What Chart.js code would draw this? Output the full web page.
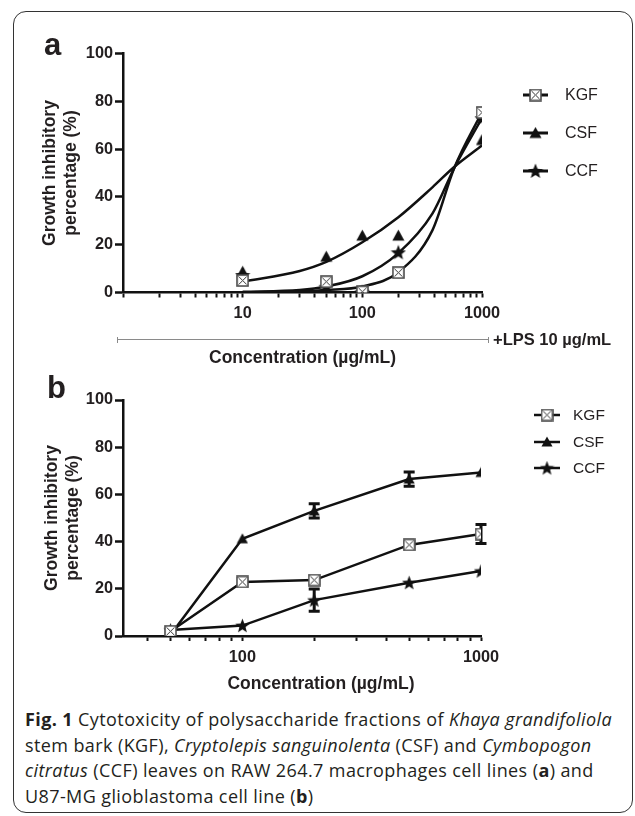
<!DOCTYPE html>
<html>
<head>
<meta charset="utf-8">
<script src="https://cdn.jsdelivr.net/npm/chart.js@4.4.0/dist/chart.umd.min.js"></script>
<style>
html, body { margin: 0; padding: 0; background: #fff; }
body { width: 635px; height: 816px; position: relative; overflow: hidden; font-family: "Liberation Sans", Arial, sans-serif; color: #231f20; }
#frame { position: absolute; left: 13px; top: 11px; width: 618px; height: 800px; border: 1.5px solid #333; border-radius: 13px; }
canvas { position: absolute; left: 0; }
#chartA { top: 0; }
#chartB { top: 372px; }
.letter { position: absolute; font-weight: bold; font-size: 31px; line-height: 30px; }
#lps { position: absolute; left: 117px; top: 339px; width: 372px; border-top: 1px solid #8a8a8a; }
#lps:before, #lps:after { content: ""; position: absolute; top: -3px; width: 1px; height: 6px; background: #8a8a8a; }
#lps:before { left: 0; }
#lps:after { right: 0; }
#lpsText { position: absolute; left: 493px; top: 330px; font-weight: bold; font-size: 16.5px; line-height: 18px; }
#xTitleB { position: absolute; left: 221px; width: 200px; top: 672px; text-align: center; font-weight: bold; font-size: 17.5px; line-height: 22px; }
#caption { position: absolute; left: 25px; top: 707px; font-family: "Open Sans", Lato, sans-serif; font-size: 18px; letter-spacing: 0.4px; line-height: 25.5px; white-space: nowrap; color: #231f20; }
</style>
</head>
<body>
<div id="frame"></div>
<canvas id="chartA" width="635" height="372"></canvas>
<canvas id="chartB" width="635" height="333"></canvas>
<div class="letter" style="left:44px; top:30px;">a</div>
<div class="letter" style="left:47px; top:373px;">b</div>
<div id="lps"></div>
<div id="lpsText">+LPS 10 µg/mL</div>
<div id="xTitleB">Concentration (µg/mL)</div>
<div id="caption"><b>Fig. 1</b> Cytotoxicity of polysaccharide fractions of <i>Khaya grandifoliola</i><br>stem bark (KGF), <i>Cryptolepis sanguinolenta</i> (CSF) and <i>Cymbopogon</i><br><i>citratus</i> (CCF) leaves on RAW 264.7 macrophages cell lines (<b>a</b>) and<br>U87-MG glioblastoma cell line (<b>b</b>)</div>

<script>
// séries
const seriesNames = ["KGF", "CSF", "CCF"];

// painel a (RAW 264.7, +LPS)
const concA = [10, 50, 100, 200, 1000];
const kgfA = [5, 4.5, 0.3, 8.3, 75.3];
const csfA = [8.7, 15, 23.8, 23.8, 63.8];
const ccfA = [7.3, 2.4, 0.3, 16.8, 72.9];

// curvas ajustadas
const fitConcA = [10, 30, 50, 100, 200, 385, 585, 1000];
const kgfFitA = [0.1, 0.5, 1, 2.5, 8.5, 26, 52, 75.5];
const csfFitA = [4.5, 9, 12.8, 21, 31.5, 44, 52.5, 61.5];
const ccfFitA = [0.3, 1, 2.5, 6.8, 16.5, 33, 52, 73];

const xTickLabelsA = [10, 100, 1000];

// painel b (U87-MG)
const concB = [50, 100, 200, 500, 1000];
const kgfB = [2, 22.9, 23.7, 38.6, 43.2];
const csfB = [0.5, 41.2, 53, 66.5, 69.3];
const ccfB = [2.5, 4.4, 15.2, 22.6, 27.5];
const kgfErrB = [0, 0, 0, 1, 4];
const csfErrB = [0, 0, 3, 3, 0];
const ccfErrB = [0, 0, 4.7, 0, 0];

const xTickLabelsB = [100, 1000];
const yTicks = [0, 20, 40, 60, 80, 100];

// marcadores
function makeBox(s) {
  const c = document.createElement('canvas');
  c.width = s; c.height = s;
  const g = c.getContext('2d');
  g.fillStyle = '#fff';
  g.fillRect(1, 1, s - 2, s - 2);
  g.strokeStyle = '#333';
  g.lineWidth = 1;
  g.beginPath();
  g.moveTo(2.5, 2.5); g.lineTo(s - 2.5, s - 2.5);
  g.moveTo(s - 2.5, 2.5); g.lineTo(2.5, s - 2.5);
  g.stroke();
  g.strokeStyle = '#4d4d4d';
  g.lineWidth = 1.6;
  g.strokeRect(1, 1, s - 2, s - 2);
  return c;
}
function makeTriangle(s) {
  const c = document.createElement('canvas');
  c.width = s; c.height = s;
  const g = c.getContext('2d');
  g.fillStyle = '#111';
  g.beginPath();
  g.moveTo(s / 2, 0.5);
  g.lineTo(s - 0.5, s - 1.5);
  g.lineTo(0.5, s - 1.5);
  g.closePath();
  g.fill();
  return c;
}
function makeStar(s) {
  const c = document.createElement('canvas');
  c.width = s; c.height = s;
  const g = c.getContext('2d');
  const R = s / 2, r = s / 4.6, cx = s / 2, cy = s / 2 + 0.6;
  g.fillStyle = '#111';
  g.beginPath();
  for (let i = 0; i < 10; i++) {
    const rad = i % 2 ? r : R;
    const a = -Math.PI / 2 + i * Math.PI / 5;
    g.lineTo(cx + rad * Math.cos(a), cy + rad * Math.sin(a));
  }
  g.closePath();
  g.fill();
  return c;
}

const markersA = [makeBox(13), makeTriangle(13), makeStar(16)];
const markersB = [makeBox(13), makeTriangle(12), makeStar(15)];

const pts = (xs, ys) => xs.map((x, i) => ({ x: x, y: ys[i] }));

// legenda desenhada à mão (linha + marcador)
const lineLegend = {
  id: 'lineLegend',
  afterDraw(chart, args, opts) {
    const ctx = chart.ctx;
    ctx.save();
    opts.names.forEach((name, i) => {
      const y = opts.ys[i];
      ctx.strokeStyle = '#111';
      ctx.lineWidth = opts.lineWidth;
      ctx.beginPath();
      ctx.moveTo(opts.x - opts.half, y);
      ctx.lineTo(opts.x + opts.half, y);
      ctx.stroke();
      const m = opts.markers[i];
      ctx.drawImage(m, opts.x - m.width / 2, y - m.height / 2);
      ctx.fillStyle = '#231f20';
      ctx.font = opts.font;
      ctx.textBaseline = 'middle';
      ctx.fillText(name, opts.textX, y + 1);
    });
    ctx.restore();
  }
};

// barras de erro
const errorBars = {
  id: 'errorBars',
  beforeDatasetsDraw(chart, args, opts) {
    const ctx = chart.ctx, xs = chart.scales.x, ys = chart.scales.y;
    ctx.save();
    ctx.strokeStyle = '#111';
    ctx.lineWidth = 3;
    chart.data.datasets.forEach(ds => {
      if (!ds.errors) return;
      ds.data.forEach((p, i) => {
        const e = ds.errors[i];
        if (!e) return;
        const x = xs.getPixelForValue(p.x);
        const y1 = ys.getPixelForValue(p.y + e), y0 = ys.getPixelForValue(p.y - e);
        ctx.beginPath();
        ctx.moveTo(x, y1); ctx.lineTo(x, y0);
        ctx.moveTo(x - 5.5, y1); ctx.lineTo(x + 5.5, y1);
        ctx.moveTo(x - 5.5, y0); ctx.lineTo(x + 5.5, y0);
        ctx.stroke();
      });
    });
    ctx.restore();
  }
};

function logTicks(min, max) {
  const t = [];
  for (let d = 1; d <= max; d *= 10) {
    for (let k = 1; k < 10; k++) {
      const v = k * d;
      if (v >= min && v <= max) t.push({ value: v });
    }
  }
  if (t[t.length - 1].value !== max) t.push({ value: max });
  return t;
}

const tickFont = { family: '"Liberation Sans", Arial, sans-serif', size: 16.3, weight: 'bold' };
const titleFont = { family: '"Liberation Sans", Arial, sans-serif', size: 17.5, weight: 'bold', lineHeight: 1.2 };

function baseScales(opt) {
  return {
    x: {
      type: 'logarithmic', min: opt.xmin, max: 1000,
      afterBuildTicks: s => { s.ticks = logTicks(opt.xmin, 1000); },
      afterFit: s => { s.height = opt.xHeight; },
      border: { color: '#111', width: 2.5 },
      grid: { drawOnChartArea: false, drawTicks: true, tickLength: 5, tickWidth: 2, tickColor: '#111' },
      ticks: {
        autoSkip: false, maxRotation: 0, padding: opt.xTickPad, color: '#231f20', font: tickFont,
        callback: v => opt.labels.includes(v) ? String(v) : ''
      },
      title: { display: opt.xTitle, text: 'Concentration (µg/mL)', color: '#231f20', font: titleFont, padding: { top: 0, bottom: opt.xTitlePad } }
    },
    y: {
      min: 0, max: 100,
      afterBuildTicks: s => { s.ticks = yTicks.map(v => ({ value: v })); },
      afterFit: s => { s.width = 123; },
      border: { color: '#111', width: 2.5 },
      grid: { drawOnChartArea: false, drawTicks: true, tickLength: 8, tickWidth: 2.5, tickColor: '#111' },
      ticks: { padding: 2, color: '#231f20', font: tickFont },
      title: {
        display: true, text: ['Growth inhibitory', 'percentage (%)'], color: '#231f20',
        font: Object.assign({}, titleFont, { lineHeight: 1.23 }),
        padding: { top: opt.yTitlePad, bottom: 0 }
      }
    }
  };
}

// Painel a
new Chart(document.getElementById('chartA'), {
  type: 'scatter',
  data: {
    datasets: [
      { label: seriesNames[0], data: pts(concA, kgfA), pointStyle: markersA[0], showLine: false },
      { label: seriesNames[1], data: pts(concA, csfA), pointStyle: markersA[1], showLine: false },
      { label: seriesNames[2], data: pts(concA, ccfA), pointStyle: markersA[2], showLine: false },
      { data: pts(fitConcA, kgfFitA), showLine: true, pointRadius: 0, borderColor: '#111', borderWidth: 2.5, cubicInterpolationMode: 'monotone' },
      { data: pts(fitConcA, csfFitA), showLine: true, pointRadius: 0, borderColor: '#111', borderWidth: 2.5, cubicInterpolationMode: 'monotone' },
      { data: pts(fitConcA, ccfFitA), showLine: true, pointRadius: 0, borderColor: '#111', borderWidth: 2.5, cubicInterpolationMode: 'monotone' }
    ]
  },
  options: {
    responsive: false, animation: false,
    layout: { padding: { top: 53.5, right: 153, bottom: 0, left: 0 } },
    plugins: {
      legend: { display: false }, tooltip: { enabled: false },
      lineLegend: { names: seriesNames, markers: markersA, x: 535.5, half: 12.5, ys: [95, 133, 171], textX: 565, lineWidth: 3, font: '16px "Liberation Sans", Arial, sans-serif' }
    },
    scales: baseScales({ xmin: 1, labels: xTickLabelsA, xHeight: 79.5, xTickPad: 6, xTitle: true, xTitlePad: 3.5, yTitlePad: 39.2 })
  },
  plugins: [lineLegend]
});

// Painel b
new Chart(document.getElementById('chartB'), {
  type: 'scatter',
  data: {
    datasets: [
      { label: seriesNames[0], data: pts(concB, kgfB), errors: kgfErrB, pointStyle: markersB[0], showLine: true, borderColor: '#111', borderWidth: 2.5 },
      { label: seriesNames[1], data: pts(concB, csfB), errors: csfErrB, pointStyle: markersB[1], showLine: true, borderColor: '#111', borderWidth: 2.5 },
      { label: seriesNames[2], data: pts(concB, ccfB), errors: ccfErrB, pointStyle: markersB[2], showLine: true, borderColor: '#111', borderWidth: 2.5 }
    ]
  },
  options: {
    responsive: false, animation: false,
    layout: { padding: { top: 28, right: 154, bottom: 0, left: 0 } },
    plugins: {
      legend: { display: false }, tooltip: { enabled: false },
      lineLegend: { names: seriesNames, markers: markersB, x: 547, half: 13, ys: [43, 70, 96], textX: 573, lineWidth: 2.5, font: '15.5px "Liberation Sans", Arial, sans-serif' }
    },
    scales: baseScales({ xmin: 31.6, labels: xTickLabelsB, xHeight: 69, xTickPad: 6.4, xTitle: false, xTitlePad: 0, yTitlePad: 41.2 })
  },
  plugins: [errorBars, lineLegend]
});
</script>
</body>
</html>
